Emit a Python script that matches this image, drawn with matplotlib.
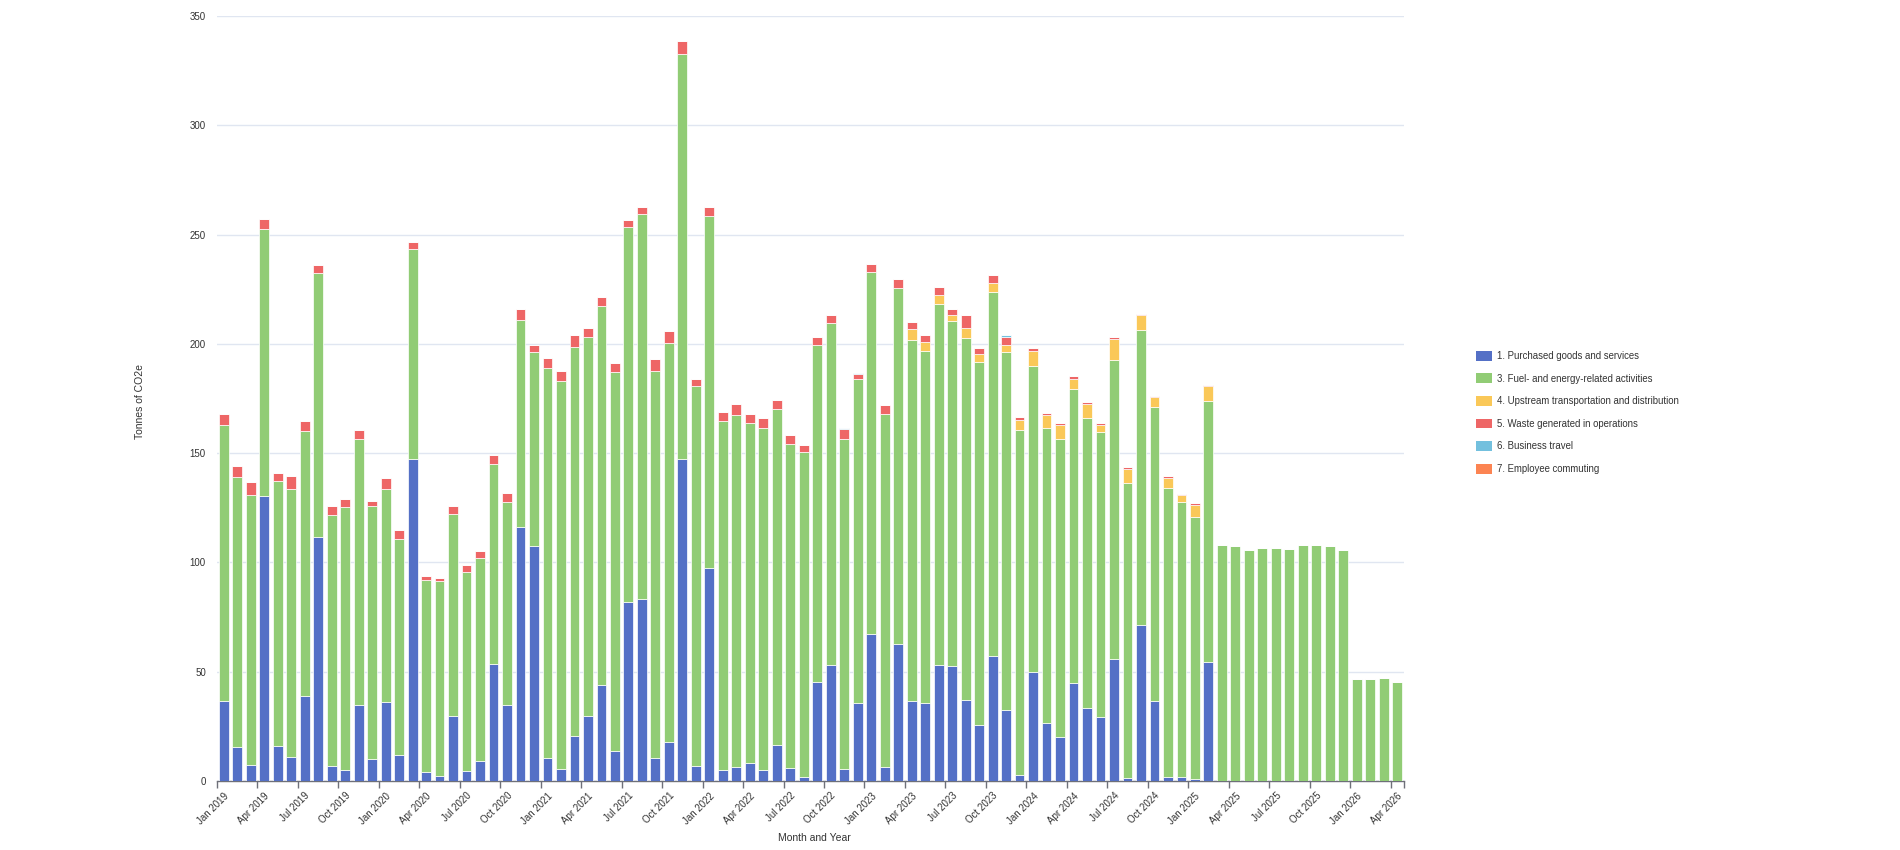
import matplotlib
matplotlib.use("Agg")
import matplotlib.pyplot as plt
from matplotlib.patches import Patch
import numpy as np

plt.rcParams['font.family'] = ['Liberation Sans', 'DejaVu Sans']

# ---------------- data ----------------
month_names = ["Jan", "Feb", "Mar", "Apr", "May", "Jun",
               "Jul", "Aug", "Sep", "Oct", "Nov", "Dec"]
years = [2019, 2020, 2021, 2022, 2023, 2024, 2025, 2026]
months = [f"{m} {y}" for y in years for m in month_names][:88]  # Jan 2019 .. Apr 2026

series_names = [
    "1. Purchased goods and services",
    "3. Fuel- and energy-related activities",
    "4. Upstream transportation and distribution",
    "5. Waste generated in operations",
    "6. Business travel",
    "7. Employee commuting",
]
series_colors = ["#5470c6", "#91cc75", "#fac858", "#ee6666", "#73c0de", "#fc8452"]

purchased = [
    36.6, 15.5, 7.3, 130.2, 16.0, 11.1, 38.7, 111.6, 6.7, 5.0, 34.9, 10.2,
    36.1, 11.9, 147.1, 4.3, 2.4, 29.7, 4.6, 9.3, 53.7, 34.6, 116.3, 107.7,
    10.4, 5.3, 20.6, 29.9, 44.1, 13.7, 81.9, 83.3, 10.5, 17.8, 147.3, 6.9,
    97.5, 4.9, 6.3, 8.1, 5.0, 16.6, 5.9, 1.7, 45.3, 53.0, 5.6, 35.8,
    67.3, 6.3, 62.5, 36.6, 35.7, 53.0, 52.6, 37.0, 25.6, 57.2, 32.3, 2.7,
    50.0, 26.5, 20.0, 45.0, 33.4, 29.4, 55.9, 1.5, 71.6, 36.5, 1.8, 1.8,
    0.9, 54.4, 0, 0, 0, 0, 0, 0, 0, 0, 0, 0,
    0, 0, 0, 0,
]
fuel_energy = [
    126.3, 123.7, 123.5, 122.3, 121.1, 122.7, 121.3, 121.0, 114.9, 120.5, 121.6, 115.7,
    97.7, 99.0, 96.4, 87.8, 88.9, 92.5, 90.8, 92.8, 91.2, 93.1, 94.8, 88.7,
    178.7, 177.8, 178.1, 173.3, 173.4, 173.3, 171.4, 176.1, 177.3, 182.7, 185.3, 173.6,
    161.1, 160.0, 161.1, 155.6, 156.5, 153.6, 148.2, 148.9, 154.2, 156.4, 150.7, 148.1,
    165.6, 161.4, 163.0, 165.3, 161.2, 165.3, 158.0, 165.6, 166.1, 166.7, 164.0, 158.0,
    140.0, 135.1, 136.3, 134.5, 132.7, 130.5, 136.9, 134.8, 134.8, 134.7, 132.2, 125.9,
    120.0, 119.6, 108.0, 107.4, 105.7, 106.8, 106.5, 106.1, 107.8, 107.8, 107.4, 105.7,
    46.5, 46.7, 46.9, 45.5,
]
upstream_transport = [
    0, 0, 0, 0, 0, 0, 0, 0, 0, 0, 0, 0,
    0, 0, 0, 0, 0, 0, 0, 0, 0, 0, 0, 0,
    0, 0, 0, 0, 0, 0, 0, 0, 0, 0, 0, 0,
    0, 0, 0, 0, 0, 0, 0, 0, 0, 0, 0, 0,
    0, 0, 0, 4.8, 3.9, 4.2, 2.6, 4.6, 3.5, 4.0, 3.4, 4.3,
    6.8, 5.7, 6.6, 4.6, 6.3, 3.0, 9.3, 6.6, 6.8, 4.4, 4.5, 3.0,
    5.3, 6.6, 0, 0, 0, 0, 0, 0, 0, 0, 0, 0,
    0, 0, 0, 0,
]
waste = [
    5.1, 5.1, 5.9, 4.8, 3.9, 5.6, 4.7, 3.5, 4.3, 3.4, 3.9, 2.0,
    4.7, 3.9, 3.2, 1.7, 1.8, 3.7, 3.5, 3.1, 4.3, 3.9, 5.0, 2.9,
    4.5, 4.3, 5.5, 3.9, 4.1, 4.1, 3.3, 3.3, 5.4, 5.3, 5.8, 3.6,
    3.9, 3.7, 4.9, 4.1, 4.7, 4.1, 4.1, 3.3, 3.6, 3.9, 4.7, 2.3,
    3.5, 4.5, 4.0, 3.1, 3.1, 3.7, 2.9, 5.8, 3.0, 3.4, 3.5, 1.6,
    1.1, 1.2, 0.8, 1.0, 0.8, 0.8, 0.9, 0.6, 0.6, 0.7, 1.0, 0.8,
    0.9, 0.8, 0, 0, 0, 0, 0, 0, 0, 0, 0, 0,
    0, 0, 0, 0,
]
business_travel = [
    0, 0, 0, 0, 0, 0, 0, 0, 0, 0, 0, 0,
    0, 0, 0, 0, 0, 0, 0, 0, 0, 0, 0, 0,
    0, 0, 0, 0, 0, 0, 0, 0, 0, 0, 0, 0,
    0, 0, 0, 0, 0, 0, 0, 0, 0, 0, 0.4, 0.4,
    0, 0, 0, 0, 0, 0, 0, 0, 0, 0, 0.7, 0,
    0, 0, 0, 0, 0, 0, 0, 0, 0, 0, 0, 0,
    0, 0, 0, 0, 0, 0, 0, 0, 0, 0, 0, 0,
    0, 0, 0, 0,
]
employee_commuting = [0] * 88

y_ticks = [0, 50, 100, 150, 200, 250, 300, 350]

# ---------------- figure ----------------
fig = plt.figure(figsize=(19, 8.5), dpi=100)
ax = fig.add_axes([217 / 1900, 69 / 850, (1404 - 217) / 1900, (781 - 16) / 850])

x = np.arange(len(months))
all_series = [purchased, fuel_energy, upstream_transport, waste,
              business_travel, employee_commuting]
bottom = np.zeros(len(months))
for vals, col in zip(all_series, series_colors):
    v = np.array(vals, dtype=float)
    ax.bar(x, v, bottom=bottom, width=0.73, color=col, edgecolor="white",
           linewidth=0.5, zorder=3)
    bottom += v

ax.set_xlim(-0.5, len(months) - 0.5)
ax.set_ylim(0, 350)
ax.set_yticks(y_ticks)
ax.set_yticklabels([str(t) for t in y_ticks], fontsize=7, color="#333333")
ax.yaxis.grid(True, color="#E0E6F1", linewidth=1, zorder=0)
ax.tick_params(axis="y", length=0, pad=8)

major = list(range(0, len(months), 3))
ax.set_xticks(major)
ax.set_xticklabels([months[i] for i in major], rotation=45, ha="right",
                   rotation_mode="anchor", fontsize=7, color="#333333")
ax.tick_params(axis="x", which="major", length=0, pad=7)
minor = [i - 0.5 for i in major] + [len(months) - 0.5]
ax.set_xticks(minor, minor=True)
ax.tick_params(axis="x", which="minor", length=5, color="#6E7079", width=1)

for s in ["top", "right", "left"]:
    ax.spines[s].set_visible(False)
ax.spines["bottom"].set_color("#6E7079")
ax.spines["bottom"].set_linewidth(1)
ax.set_axisbelow(True)

fig.text(140 / 1900, 1 - 402 / 850, "Tonnes of CO2e", rotation=90,
         ha="center", va="center", fontsize=7.5, color="#333333")
fig.text(814 / 1900, 1 - 838 / 850, "Month and Year", ha="center",
         va="center", fontsize=7.5, color="#333333")

handles = [Patch(facecolor=c, edgecolor="none", label=n)
           for c, n in zip(series_colors, series_names)]
leg = fig.legend(handles=handles, loc="upper left",
                 bbox_to_anchor=(1472 / 1900, 1 - 347 / 850),
                 frameon=False, fontsize=6.9, labelspacing=1.3,
                 handlelength=1.7, handleheight=1.2, handletextpad=0.5,
                 borderaxespad=0)
for t in leg.get_texts():
    t.set_color("#333333")

fig.savefig("out.png", dpi=100, facecolor="white")
